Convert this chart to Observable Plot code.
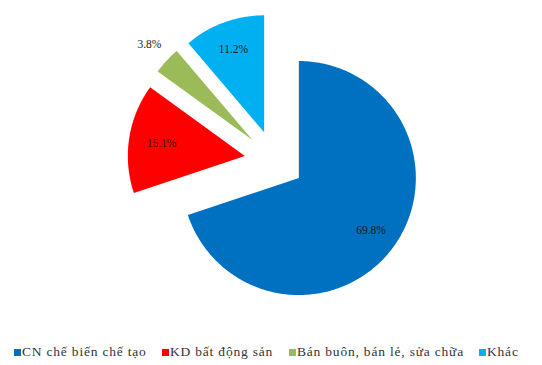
<!DOCTYPE html>
<html>
<head>
<meta charset="utf-8">
<script src="https://cdn.jsdelivr.net/npm/d3@7"></script>
<script src="https://cdn.jsdelivr.net/npm/@observablehq/plot@0.6"></script>
<style>
  html, body { margin: 0; padding: 0; background: #fff; }
  #wrap { width: 542px; height: 365px; position: relative; overflow: hidden; }
  #legend { position: absolute; left: 0; top: 344px; width: 542px; height: 20px; }
  .item { position: absolute; top: 0; white-space: nowrap; display: flex; align-items: center;
    font-family: 'Liberation Serif', 'Times New Roman', 'DejaVu Serif', serif; font-size: 13.5px;
    letter-spacing: 0.8px; color: #333; }
  .sw { width: 7px; height: 7px; margin-right: 1px; display: inline-block; }
</style>
</head>
<body>
<div id="wrap"><div id="chart"></div><div id="legend"></div></div>
<script>
const categories = ["CN chế biến chế tạo", "KD bất động sản", "Bán buôn, bán lẻ, sửa chữa", "Khác"];
const shares = [69.8, 15.1, 3.8, 11.2];
const labels = ["69.8%", "15.1%", "3.8%", "11.2%"];
const colors = ["#0070C0", "#FF0000", "#9BBB59", "#00B0F0"];

// layout
const W = 542, H = 340;
const cx = 274, cy = 160, R = 117, explode = 30;
const labelPos = [0.76, 0.72, 1.2, 0.76];
const legendX = [14, 162, 289, 479];

const total = d3.sum(shares);
let acc = 0;
const rows = [];
const labelRows = [];
shares.forEach((v, i) => {
  const a0 = acc / total * 2 * Math.PI;
  acc += v;
  const a1 = acc / total * 2 * Math.PI;
  const mid = (a0 + a1) / 2;
  const ox = cx + explode * Math.sin(mid);
  const oy = cy - explode * Math.cos(mid);
  rows.push({cat: categories[i], x: ox, y: oy});
  const n = Math.max(4, Math.ceil((a1 - a0) / (Math.PI / 180)));
  for (let k = 0; k <= n; k++) {
    const a = a0 + (a1 - a0) * k / n;
    rows.push({cat: categories[i], x: ox + R * Math.sin(a), y: oy - R * Math.cos(a)});
  }
  rows.push({cat: categories[i], x: ox, y: oy});
  labelRows.push({
    text: labels[i],
    x: ox + labelPos[i] * R * Math.sin(mid),
    y: oy - labelPos[i] * R * Math.cos(mid)
  });
});

const chart = Plot.plot({
  width: W,
  height: H,
  margin: 0,
  x: {domain: [0, W], range: [0, W], axis: null},
  y: {domain: [0, H], range: [0, H], axis: null},
  marks: [
    ...categories.map((c, i) => Plot.line(rows.filter(r => r.cat === c), {
      x: "x", y: "y", fill: colors[i], stroke: "none", curve: "linear"
    })),
    Plot.text(labelRows, {
      x: "x", y: "y", text: "text", fontSize: 11.5, fill: "#1a1a1a",
      fontFamily: "Liberation Serif, serif"
    })
  ]
});
document.getElementById("chart").appendChild(chart);

const legend = document.getElementById("legend");
categories.forEach((c, i) => {
  const it = document.createElement("div");
  it.className = "item";
  it.style.left = legendX[i] + "px";
  const sw = document.createElement("span");
  sw.className = "sw";
  sw.style.background = colors[i];
  const t = document.createElement("span");
  t.textContent = c;
  it.appendChild(sw);
  it.appendChild(t);
  legend.appendChild(it);
});
</script>
</body>
</html>
